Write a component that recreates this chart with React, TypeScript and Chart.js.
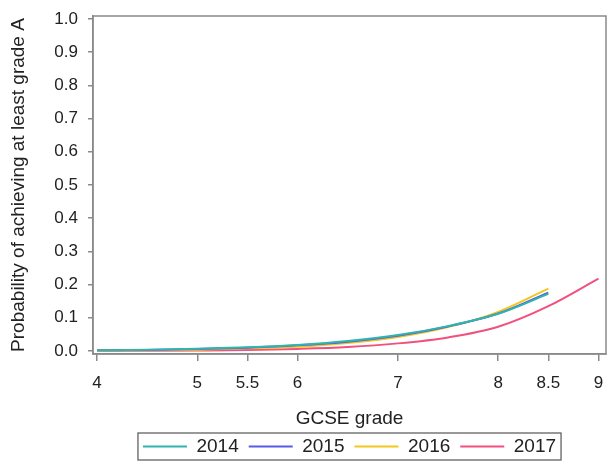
import React, { useEffect, useRef } from 'react';
import { Chart, registerables } from 'chart.js';

Chart.register(...registerables);

const grades = [4, 4.5, 5, 5.5, 6, 6.5, 7, 7.5, 8, 8.5];
const grades2017 = [4, 4.5, 5, 5.5, 6, 6.5, 7, 7.5, 8, 8.5, 9];
const p2014 = [0.002, 0.004, 0.007, 0.011, 0.018, 0.03, 0.048, 0.075, 0.112, 0.172];
const p2015 = [0.002, 0.003, 0.006, 0.01, 0.017, 0.028, 0.046, 0.074, 0.113, 0.176];
const p2016 = [0.001, 0.002, 0.004, 0.008, 0.013, 0.024, 0.042, 0.072, 0.118, 0.188];
const p2017 = [0.0005, 0.0009, 0.0017, 0.003, 0.0063, 0.012, 0.023, 0.041, 0.073, 0.135, 0.218];
const xTicks = [4, 5, 5.5, 6, 7, 8, 8.5, 9];
const yTicks = [0, 0.1, 0.2, 0.3, 0.4, 0.5, 0.6, 0.7, 0.8, 0.9, 1.0];
const seriesNames = ['2014', '2015', '2016', '2017'];
const seriesColors = ['#2fb5ad', '#5a5ae6', '#f2c81e', '#f2507e'];

const FONT = "'Liberation Sans', Arial, sans-serif";
const TXT = '#222222';
const AXIS = '#8a8a8a';

const toPts = (xs: number[], ys: number[]) => ys.map((y, i) => ({ x: xs[i], y }));

export default function App() {
  const ref = useRef<HTMLCanvasElement>(null);
  useEffect(() => {
    if (!ref.current) return;
    const frame = {
      id: 'frame',
      afterDatasetsDraw(chart: any) {
        const { ctx, chartArea: a } = chart;
        ctx.save();
        ctx.strokeStyle = AXIS;
        ctx.lineWidth = 1.5;
        ctx.strokeRect(a.left, a.top, a.right - a.left, a.bottom - a.top);
        ctx.restore();
      },
    };
    const legendBox = {
      id: 'legendBox',
      afterDraw(chart: any) {
        const lg = chart.legend;
        if (!lg || !lg.legendHitBoxes || !lg.legendHitBoxes.length) return;
        const hb = lg.legendHitBoxes;
        let l = Infinity, r = -Infinity, t = Infinity, b = -Infinity;
        hb.forEach((h: any) => {
          l = Math.min(l, h.left);
          r = Math.max(r, h.left + h.width);
          t = Math.min(t, h.top);
          b = Math.max(b, h.top + h.height);
        });
        const { ctx } = chart;
        ctx.save();
        ctx.strokeStyle = '#555';
        ctx.lineWidth = 1.2;
        ctx.strokeRect(l - 5, t - 4, r - l + 10, b - t + 8);
        ctx.restore();
      },
    };
    const datasets = [p2014, p2015, p2016, p2017].map((arr, i) => ({
      label: seriesNames[i],
      data: toPts(i === 3 ? grades2017 : grades, arr),
      borderColor: seriesColors[i],
      backgroundColor: seriesColors[i],
      borderWidth: 2,
      pointRadius: 0,
      fill: false,
      cubicInterpolationMode: 'monotone' as const,
    }));
    const chart = new Chart(ref.current, {
      type: 'line',
      data: { datasets },
      options: {
        animation: false,
        responsive: true,
        maintainAspectRatio: false,
        layout: { padding: { left: 2, right: 2, top: 16, bottom: 0 } },
        plugins: {
          legend: {
            position: 'bottom',
            fullSize: false,
            labels: {
              usePointStyle: true,
              pointStyle: 'line',
              pointStyleWidth: 44,
              boxWidth: 44,
              boxHeight: 2,
              padding: 10,
              color: TXT,
              font: { family: FONT, size: 19 },
            },
          },
          tooltip: { enabled: false },
        },
        scales: {
          x: {
            type: 'linear',
            min: 3.96,
            max: 9.075,
            afterBuildTicks: (s: any) => { s.ticks = xTicks.map((v) => ({ value: v })); },
            afterFit: (s: any) => { s.height = 73; s.paddingLeft = 0; s.paddingRight = 0; },
            ticks: {
              callback: (v: any) => String(v),
              color: TXT,
              font: { family: FONT, size: 17 },
              padding: 12,
              maxRotation: 0,
              autoSkip: false,
            },
            grid: { display: true, drawOnChartArea: false, drawTicks: true, tickLength: 7, color: AXIS, lineWidth: 1.5 },
            border: { display: true, color: AXIS, width: 1.5 },
            title: { display: true, text: 'GCSE grade', color: TXT, font: { family: FONT, size: 19, lineHeight: 1 }, padding: { top: 0, bottom: -1 } },
          },
          y: {
            type: 'linear',
            min: -0.009,
            max: 1.009,
            afterBuildTicks: (s: any) => { s.ticks = yTicks.map((v) => ({ value: v })); },
            afterFit: (s: any) => { s.width = 91; s.paddingTop = 0; s.paddingBottom = 0; },
            ticks: {
              callback: (v: any) => Number(v).toFixed(1),
              color: TXT,
              font: { family: FONT, size: 17 },
              padding: 10,
              autoSkip: false,
            },
            grid: { display: true, drawOnChartArea: false, drawTicks: true, tickLength: 5, color: AXIS, lineWidth: 1.5 },
            border: { display: true, color: AXIS, width: 1.5 },
            title: { display: true, text: 'Probability of achieving at least grade A', color: TXT, font: { family: FONT, size: 19 }, padding: { top: 5, bottom: 0 } },
          },
        },
      },
      plugins: [frame, legendBox],
    });
    return () => chart.destroy();
  }, []);
  return (
    <div style={{ position: 'absolute', left: 0, top: 0, width: 608, height: 466, background: '#fff' }}>
      <canvas ref={ref} />
    </div>
  );
}
